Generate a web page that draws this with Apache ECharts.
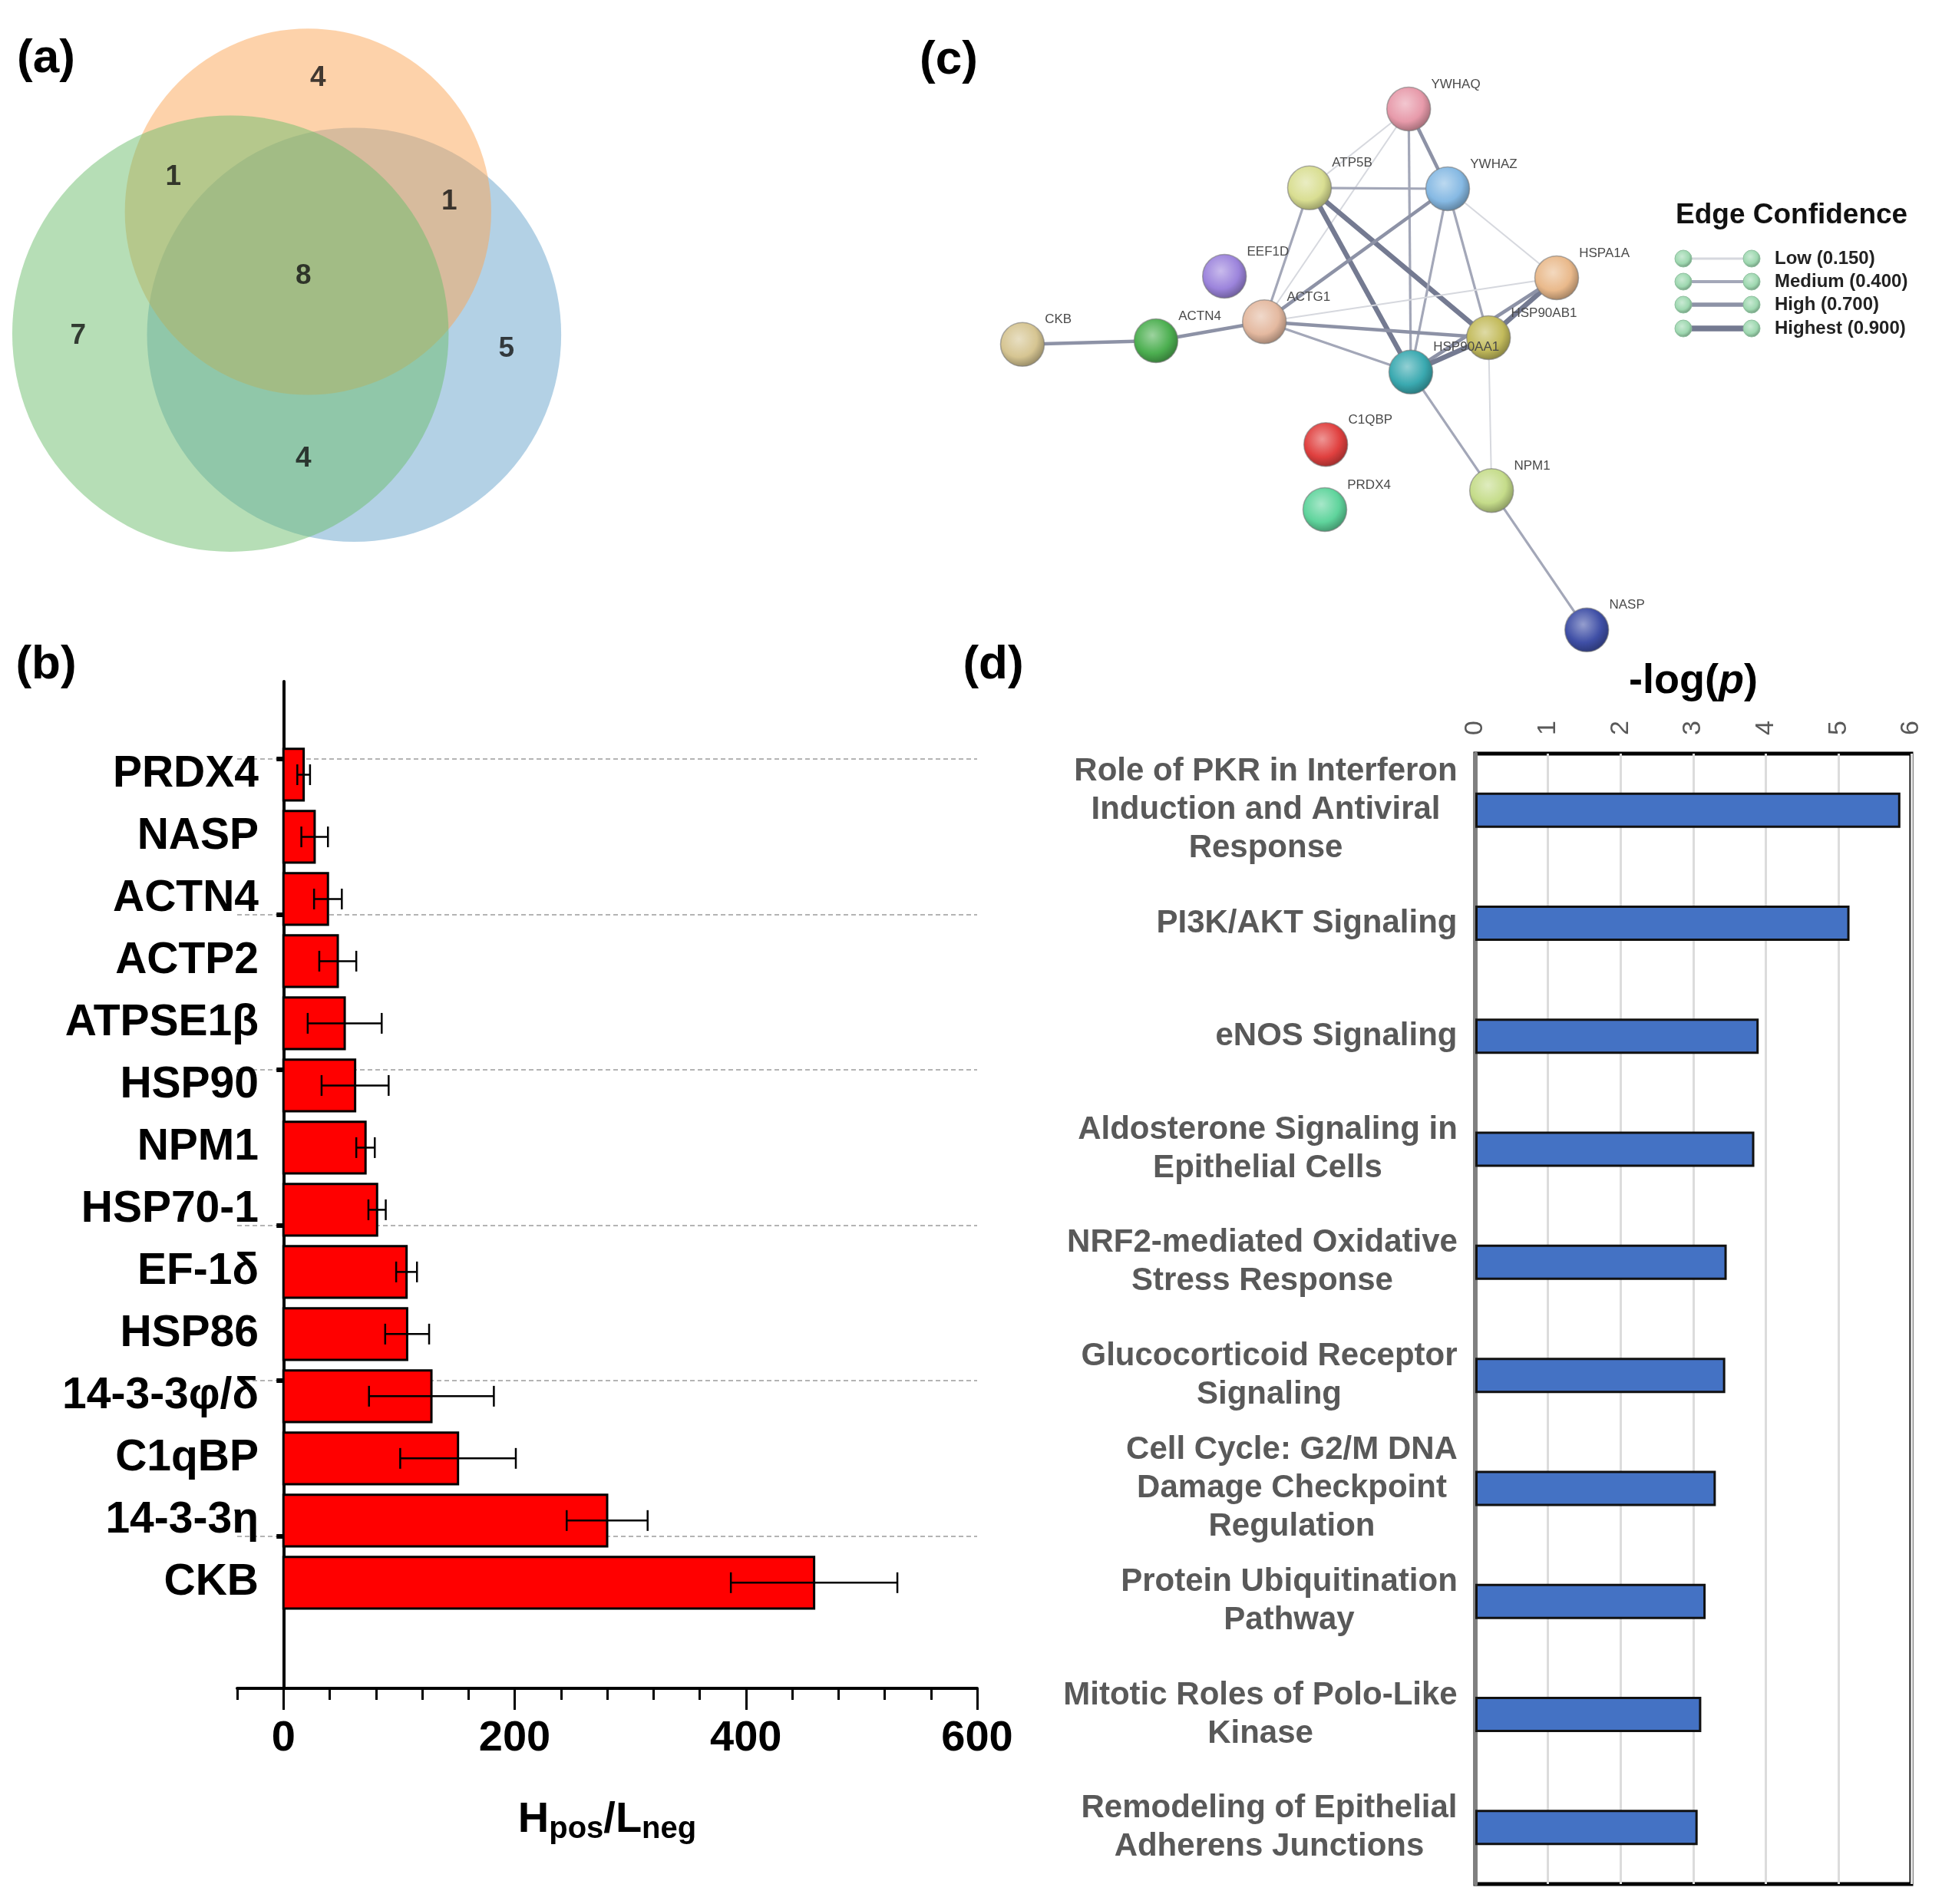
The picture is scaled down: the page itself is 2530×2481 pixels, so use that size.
<!DOCTYPE html>
<html><head><meta charset="utf-8">
<script src="https://cdn.jsdelivr.net/npm/echarts@6/dist/echarts.min.js"></script>
<style>html,body{margin:0;padding:0;background:#fff}#c{width:2530px;height:2481px}</style>
</head><body><div id="c"></div>
<script>
// ================= DATA =================
// (a) Venn diagram: region counts
const vennCounts = [4, 1, 1, 8, 7, 5, 4];
const vennCountX = [54.5, 29.7, 77.0, 52.0, 13.4, 86.8, 52.0];
const vennCountY = [13.4, 30.4, 34.6, 47.4, 57.6, 59.9, 78.6];
// Venn circles (blue, orange, green), in venn units
const vennCx = [60.7, 52.8, 39.5];
const vennCy = [57.4, 36.3, 57.2];
const vennR  = [35.5, 31.4, 37.4];

// (c) STRING network
const netNodes = ['YWHAQ','ATP5B','YWHAZ','EEF1D','HSPA1A','ACTG1','ACTN4','CKB','HSP90AB1','HSP90AA1','C1QBP','PRDX4','NPM1','NASP'];
const netX = [66.9, 50.75, 73.25, 36.9, 91.0, 43.4, 25.75, 4.0, 79.9, 67.25, 53.4, 53.25, 80.4, 95.9];
const netY = [10.25, 23.1, 23.25, 37.5, 37.75, 44.9, 48.0, 48.6, 47.5, 53.1, 64.9, 75.5, 72.4, 95.1];
// [source, target, confidence level 0..3]
const netLinks = [
  ['YWHAQ','YWHAZ',2], ['YWHAQ','ATP5B',0], ['YWHAQ','ACTG1',0], ['YWHAQ','HSP90AA1',1],
  ['ATP5B','YWHAZ',1], ['ATP5B','ACTG1',1], ['ATP5B','HSP90AA1',3], ['ATP5B','HSP90AB1',3],
  ['YWHAZ','ACTG1',2], ['YWHAZ','HSP90AA1',1], ['YWHAZ','HSP90AB1',1], ['YWHAZ','HSPA1A',0],
  ['HSPA1A','ACTG1',0], ['HSPA1A','HSP90AB1',3], ['HSPA1A','HSP90AA1',2],
  ['ACTG1','HSP90AB1',2], ['ACTG1','HSP90AA1',1], ['ACTN4','ACTG1',2], ['CKB','ACTN4',2],
  ['HSP90AA1','HSP90AB1',3], ['HSP90AA1','NPM1',1], ['HSP90AB1','NPM1',0], ['NPM1','NASP',1]
];
const confidenceLabels = ['Low (0.150)','Medium (0.400)','High (0.700)','Highest (0.900)'];

// (b) Hpos/Lneg bars
const proteinsB = ['PRDX4','NASP','ACTN4','ACTP2','ATPSE1\u03b2','HSP90','NPM1','HSP70-1','EF-1\u03b4','HSP86','14-3-3\u03c6/\u03b4','C1qBP','14-3-3\u03b7','CKB'];
const valuesB = [17.5, 27, 38.5, 47, 53, 62, 71, 81, 106.5, 107, 128, 151, 280, 459];
const errorsB = [5.5, 11.5, 12, 16, 32, 29, 8, 7.5, 9, 19, 54, 50, 35, 72];
const xTicksB = [0, 200, 400, 600];
const gridLinesB = [1.25, 3.75, 6.25, 8.75, 11.25, 13.75];

// (d) pathways -log(p)
const pathwaysD = [
  'Role of PKR in Interferon\nInduction and Antiviral\nResponse',
  'PI3K/AKT Signaling',
  'eNOS Signaling',
  'Aldosterone Signaling in\nEpithelial Cells',
  'NRF2-mediated Oxidative\nStress Response',
  'Glucocorticoid Receptor\nSignaling',
  'Cell Cycle: G2/M DNA\nDamage Checkpoint\nRegulation',
  'Protein Ubiquitination\nPathway',
  'Mitotic Roles of Polo-Like\nKinase',
  'Remodeling of Epithelial\nAdherens Junctions'
];
const valuesD = [5.85, 5.15, 3.90, 3.84, 3.46, 3.44, 3.31, 3.17, 3.11, 3.06];

// ================= STYLE =================
const FONT = '"Liberation Sans", Arial, Helvetica, sans-serif';
const vennFill = ['#67a3cb', '#fba555', '#6dbd6d'];
const nodeColors = ['#e79aaa','#d9de92','#86b9e3','#9c84dc','#e9b98b','#e4b9a0','#4caf50','#d6c592','#c3bb5c','#3aa9b0','#e0403f','#5fd49c','#c5dc8a','#3f4fa6'];
const levelWidth = [2, 3.2, 4.6, 6.5];
const levelColor = ['#d6d8de', '#a3a7b8', '#8d92a6', '#747a91'];

function mix(hex, target, t) {
  const a = parseInt(hex.slice(1), 16), b = parseInt(target.slice(1), 16);
  const ch = (v, s) => (v >> s) & 255;
  const m = s => Math.round(ch(a, s) * (1 - t) + ch(b, s) * t);
  return 'rgb(' + m(16) + ',' + m(8) + ',' + m(0) + ')';
}
function glossy(c) {
  return { type: 'radial', x: 0.42, y: 0.38, r: 0.62, colorStops: [
    { offset: 0, color: mix(c, '#ffffff', 0.45) },
    { offset: 0.65, color: c },
    { offset: 1, color: mix(c, '#000000', 0.28) } ] };
}

// measure label blocks for panel (d) so lines are centred in a right-aligned block
const mctx = document.createElement('canvas').getContext('2d');
mctx.font = 'bold 42px ' + FONT;
const richD = {};
pathwaysD.forEach((t, i) => {
  const w = Math.max.apply(null, t.split('\n').map(l => mctx.measureText(l).width));
  richD['w' + i] = { width: Math.ceil(w) + 2, align: 'center', fontSize: 42, fontWeight: 'bold',
    color: '#595959', lineHeight: 50, fontFamily: FONT };
});

const chart = echarts.init(document.getElementById('c'), null, { renderer: 'canvas' });

// legend graphics for edge confidence
const legendGraphics = [{
  type: 'text', left: 2183, top: 262,
  style: { text: 'Edge Confidence', font: 'bold 37px ' + FONT, fill: '#111' }
}];
const legendRowY = [337, 367, 397, 428];
confidenceLabels.forEach((lab, i) => {
  const y = legendRowY[i];
  legendGraphics.push(
    { type: 'line', shape: { x1: 2200, y1: y, x2: 2276, y2: y }, style: { stroke: levelColor[i], lineWidth: levelWidth[i] + 1 } },
    { type: 'circle', shape: { cx: 2193, cy: y, r: 11 }, style: { fill: glossy('#9ed8b0'), stroke: '#8fbf9f', lineWidth: 1 } },
    { type: 'circle', shape: { cx: 2282, cy: y, r: 11 }, style: { fill: glossy('#9ed8b0'), stroke: '#8fbf9f', lineWidth: 1 } },
    { type: 'text', x: 2312, y: y, style: { text: lab, font: 'bold 24px ' + FONT, fill: '#222', textVerticalAlign: 'middle' } }
  );
});
const panelLetters = [['(a)', 60, 77], ['(b)', 60, 867], ['(c)', 1236, 79], ['(d)', 1294, 867]].map(p => ({
  type: 'text', x: p[1], y: p[2],
  style: { text: p[0], font: 'bold 62px ' + FONT, fill: '#000', textAlign: 'center', textVerticalAlign: 'middle' }
}));

const option = {
  animation: false,
  backgroundColor: '#fff',
  textStyle: { fontFamily: FONT },
  grid: [
    { left: 0, top: 0, width: 760, height: 760 },
    { left: 1300, top: 60, width: 800, height: 800 },
    { left: 309, top: 888, width: 964, height: 1312 },
    { left: 1922, top: 982, width: 568, height: 1473, show: true, borderColor: '#000', borderWidth: 5 }
  ],
  xAxis: [
    { gridIndex: 0, type: 'value', min: 0, max: 100, show: false },
    { gridIndex: 1, type: 'value', min: 0, max: 100, show: false },
    { gridIndex: 2, type: 'value', min: -40, max: 600, interval: 40, position: 'bottom',
      axisLine: { onZero: false, lineStyle: { color: '#000', width: 4 } },
      axisTick: { length: 15, lineStyle: { color: '#000', width: 3 } },
      axisLabel: { show: false }, splitLine: { show: false } },
    { gridIndex: 2, type: 'value', min: -40, max: 600, interval: 40, position: 'bottom',
      axisLine: { show: false, onZero: false },
      axisTick: { customValues: xTicksB, length: 28, lineStyle: { color: '#000', width: 3 } },
      axisLabel: { customValues: xTicksB, fontSize: 56, fontWeight: 'bold', color: '#000', margin: 38 },
      splitLine: { show: false },
      name: '{h|H}{s|pos}{h|/L}{s|neg}', nameLocation: 'middle', nameGap: 144,
      nameTextStyle: { rich: {
        h: { fontSize: 56, fontWeight: 'bold', color: '#000', lineHeight: 60, verticalAlign: 'top', fontFamily: FONT },
        s: { fontSize: 40, fontWeight: 'bold', color: '#000', lineHeight: 42, padding: [30, 0, 0, 0], verticalAlign: 'bottom', fontFamily: FONT }
      } } },
    { gridIndex: 3, type: 'value', min: 0, max: 6, interval: 1, position: 'top',
      axisLine: { lineStyle: { color: '#000', width: 5 } },
      axisTick: { show: false },
      axisLabel: { rotate: -90, margin: 24, fontSize: 34, color: '#595959' },
      splitLine: { show: true, lineStyle: { color: '#dcdcdc', width: 3 } },
      name: '-log({i|p})', nameLocation: 'middle', nameGap: 64,
      nameTextStyle: { fontSize: 54, fontWeight: 'bold', color: '#000', lineHeight: 60,
        rich: { i: { fontSize: 54, fontWeight: 'bold', fontStyle: 'italic', color: '#000', lineHeight: 60, fontFamily: FONT } } } }
  ],
  yAxis: [
    { gridIndex: 0, type: 'value', min: 0, max: 100, inverse: true, show: false },
    { gridIndex: 1, type: 'value', min: 0, max: 100, inverse: true, show: false },
    { gridIndex: 2, type: 'value', min: 0, max: 16.2, inverse: true,
      axisLine: { onZero: true, lineStyle: { color: '#000', width: 4 } },
      axisTick: { customValues: gridLinesB, length: 9, lineStyle: { color: '#000', width: 6 } },
      axisLabel: { customValues: proteinsB.map((_, i) => i + 1.5),
        formatter: v => proteinsB[Math.round(v - 1.5)] || '',
        fontSize: 57, fontWeight: 'bold', color: '#000', margin: -28 },
      splitLine: { show: true, lineStyle: { color: '#b4b4b4', width: 2, type: [6, 4] } } },
    { gridIndex: 3, type: 'category', data: pathwaysD, inverse: true,
      axisLine: { lineStyle: { color: '#808080', width: 5 } },
      axisTick: { show: false },
      axisLabel: { margin: 22, formatter: (v, idx) => v.split('\n').map(l => '{w' + idx + '|' + l + '}').join('\n'), rich: richD } }
  ],
  series: [
    { type: 'custom', xAxisIndex: 0, yAxisIndex: 0, silent: true,
      data: vennCx.map((x, i) => [x, vennCy[i], vennR[i]]),
      renderItem: (params, api) => {
        const c = api.coord([api.value(0), api.value(1)]);
        const r = api.size([api.value(2), 0])[0];
        return { type: 'circle', shape: { cx: c[0], cy: c[1], r: r },
          style: { fill: vennFill[params.dataIndex], opacity: 0.5 } };
      } },
    { type: 'scatter', xAxisIndex: 0, yAxisIndex: 0, symbolSize: 0, silent: true,
      data: vennCounts.map((n, i) => [vennCountX[i], vennCountY[i], n]),
      label: { show: true, position: 'inside', formatter: p => String(p.value[2]),
        fontSize: 37, fontWeight: 'bold', color: '#111' } },
    { type: 'graph', coordinateSystem: 'cartesian2d', xAxisIndex: 1, yAxisIndex: 1,
      layout: 'none', symbolSize: 57, silent: true,
      data: netNodes.map((n, i) => ({ name: n, value: [netX[i], netY[i]],
        itemStyle: { color: glossy(nodeColors[i]), borderColor: 'rgba(120,120,120,0.6)', borderWidth: 1.5 } })),
      links: netLinks.map(l => ({ source: l[0], target: l[1],
        lineStyle: { width: levelWidth[l[2]], color: levelColor[l[2]], opacity: 1, curveness: 0 } })),
      label: { show: true, position: 'right', distance: 0, offset: [0, -32], fontSize: 17, color: '#4a4a4a',
        formatter: p => p.name },
      emphasis: { disabled: true } },
    { type: 'custom', xAxisIndex: 2, yAxisIndex: 2, silent: true,
      data: valuesB.map((v, i) => [v, i + 1.5, errorsB[i]]),
      renderItem: (params, api) => {
        const v = api.value(0), y = api.value(1), e = api.value(2);
        const p0 = api.coord([0, y]), p1 = api.coord([v, y]);
        const lo = api.coord([v - e, y]), hi = api.coord([v + e, y]);
        const h = api.size([0, 0.83])[1];
        const cap = 27;
        return { type: 'group', children: [
          { type: 'rect', shape: { x: p0[0], y: p0[1] - h / 2, width: p1[0] - p0[0], height: h },
            style: { fill: '#ff0000', stroke: '#000', lineWidth: 3 } },
          { type: 'line', shape: { x1: lo[0], y1: lo[1], x2: hi[0], y2: hi[1] }, style: { stroke: '#000', lineWidth: 2.5 } },
          { type: 'line', shape: { x1: lo[0], y1: lo[1] - cap / 2, x2: lo[0], y2: lo[1] + cap / 2 }, style: { stroke: '#000', lineWidth: 2.5 } },
          { type: 'line', shape: { x1: hi[0], y1: hi[1] - cap / 2, x2: hi[0], y2: hi[1] + cap / 2 }, style: { stroke: '#000', lineWidth: 2.5 } }
        ] };
      } },
    { type: 'bar', xAxisIndex: 4, yAxisIndex: 3, data: valuesD, barWidth: 46, silent: true,
      itemStyle: { color: '#4472C4', borderColor: '#111', borderWidth: 3 } }
  ],
  graphic: panelLetters.concat(legendGraphics)
};
chart.setOption(option);
</script></body></html>
